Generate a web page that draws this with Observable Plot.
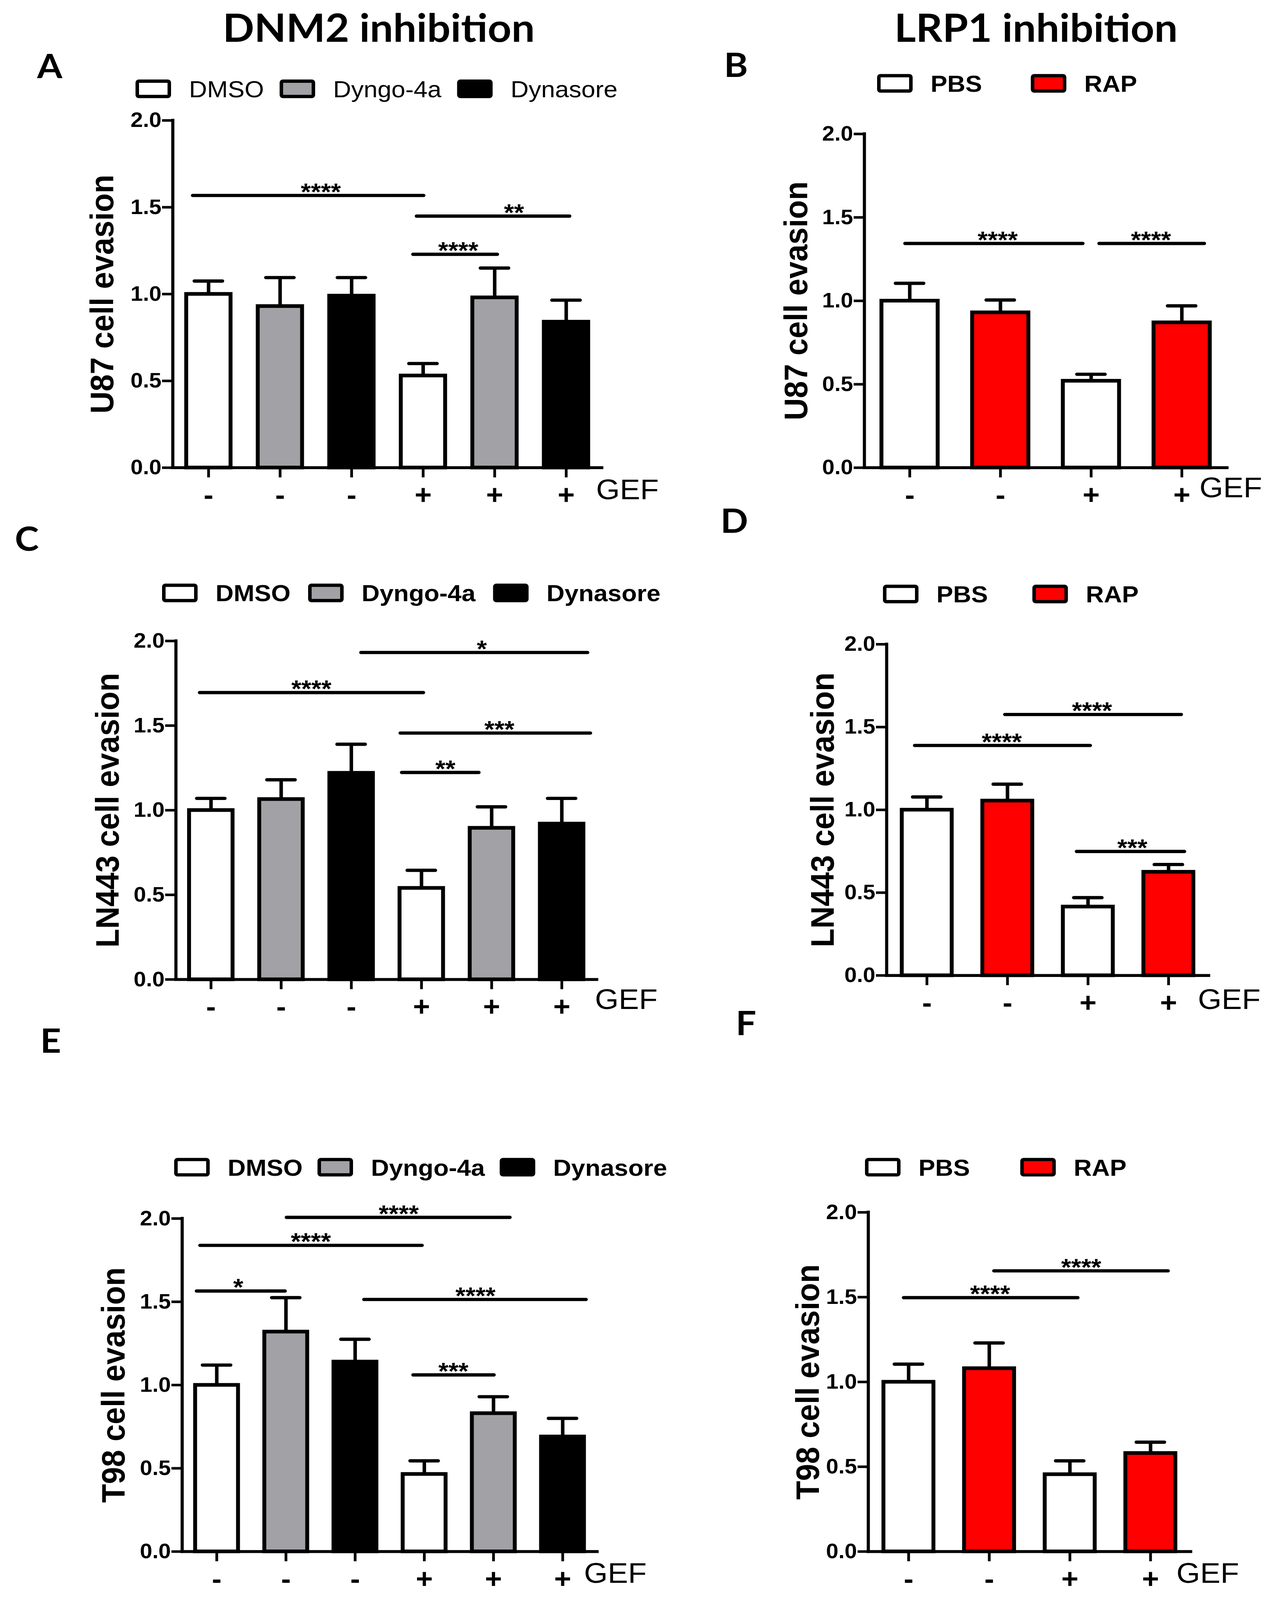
<!DOCTYPE html>
<html>
<head>
<meta charset="utf-8">
<script src="https://cdn.jsdelivr.net/npm/d3@7"></script>
<script src="https://cdn.jsdelivr.net/npm/@observablehq/plot@0.6"></script>
<style>
  html, body { margin: 0; padding: 0; background: #fff; overflow: hidden; }
  #fig { position: relative; width: 3247px; height: 4377px; background: #fff; overflow: hidden; transform-origin: 0 0; }
  #fig svg { position: absolute; }
</style>
</head>
<body>
<div id="fig"></div>
<script>
// ---- data ----
const dnm2Groups = ["DMSO", "Dyngo-4a", "Dynasore"];
const lrp1Groups = ["PBS", "RAP"];
const dnm2Gef = ["-", "-", "-", "+", "+", "+"];
const lrp1Gef = ["-", "-", "+", "+"];
const yTicks = [0, 0.5, 1.0, 1.5, 2.0];

// A: U87, DNM2 inhibitors
const u87DnmMean = [1.00, 0.93, 0.99, 0.53, 0.98, 0.84];
const u87DnmSem  = [0.075, 0.165, 0.105, 0.07, 0.17, 0.125];
const u87DnmSig = [
  { from: -0.22, to: 3.01, y: 1.568, at: 1.57, stars: "****" },
  { from: 2.91, to: 5.05, y: 1.449, at: 4.27, stars: "**" },
  { from: 2.86, to: 4.04, y: 1.229, at: 3.49, stars: "****" }
];
// B: U87, RAP
const u87LrpMean = [1.00, 0.93, 0.52, 0.87];
const u87LrpSem  = [0.105, 0.075, 0.04, 0.10];
const u87LrpSig = [
  { from: -0.05, to: 1.91, y: 1.344, at: 0.97, stars: "****" },
  { from: 2.09, to: 3.25, y: 1.344, at: 2.66, stars: "****" }
];
// C: LN443, DNM2 inhibitors
const ln443DnmMean = [1.00, 1.065, 1.22, 0.54, 0.895, 0.92];
const ln443DnmSem  = [0.07, 0.115, 0.17, 0.105, 0.125, 0.15];
const ln443DnmSig = [
  { from: 2.14, to: 5.37, y: 1.932, at: 3.86, stars: "*" },
  { from: -0.16, to: 3.03, y: 1.695, at: 1.43, stars: "****" },
  { from: 2.70, to: 5.41, y: 1.456, at: 4.11, stars: "***" },
  { from: 2.72, to: 3.82, y: 1.223, at: 3.34, stars: "**" }
];
// D: LN443, RAP
const ln443LrpMean = [1.00, 1.055, 0.415, 0.625];
const ln443LrpSem  = [0.078, 0.10, 0.055, 0.045];
const ln443LrpSig = [
  { from: 0.97, to: 3.16, y: 1.576, at: 2.05, stars: "****" },
  { from: -0.15, to: 2.03, y: 1.389, at: 0.93, stars: "****" },
  { from: 1.86, to: 3.20, y: 0.749, at: 2.55, stars: "***" }
];
// E: T98, DNM2 inhibitors
const t98DnmMean = [1.00, 1.32, 1.14, 0.465, 0.83, 0.69];
const t98DnmSem  = [0.12, 0.205, 0.135, 0.08, 0.10, 0.11];
const t98DnmSig = [
  { from: 1.01, to: 4.24, y: 2.007, at: 2.63, stars: "****" },
  { from: -0.24, to: 2.97, y: 1.839, at: 1.36, stars: "****" },
  { from: -0.29, to: 0.99, y: 1.565, at: 0.31, stars: "*" },
  { from: 2.13, to: 5.34, y: 1.514, at: 3.74, stars: "****" },
  { from: 2.84, to: 4.01, y: 1.061, at: 3.42, stars: "***" }
];
// F: T98, RAP
const t98LrpMean = [1.00, 1.08, 0.455, 0.58];
const t98LrpSem  = [0.105, 0.15, 0.08, 0.065];
const t98LrpSig = [
  { from: 1.06, to: 3.22, y: 1.655, at: 2.14, stars: "****" },
  { from: -0.06, to: 2.10, y: 1.497, at: 1.01, stars: "****" }
];

// ---- styling / layout ----
const font = "'Liberation Sans', Arial, sans-serif";
const headFont = "Lato, 'Open Sans', sans-serif";
const dnm2Fill = ["#ffffff", "#a2a1a5", "#000000"];
const lrp1Fill = ["#ffffff", "#ff0000"];
const fig = document.getElementById("fig");

const panels = [
  { mean: u87DnmMean, sem: u87DnmSem, sig: u87DnmSig, gef: dnm2Gef, fills: [0, 1, 2, 0, 1, 2].map(k => dnm2Fill[k]),
    label: "U87 cell evasion", x0: 442, x1: 1541, yTop: 329, yBot: 1279, labelOff: 153, gefDx: -15, gefDy: 61 },
  { mean: u87LrpMean, sem: u87LrpSem, sig: u87LrpSig, gef: lrp1Gef, fills: [0, 1, 0, 1].map(k => lrp1Fill[k]),
    label: "U87 cell evasion", x0: 2213, x1: 3142, yTop: 366, yBot: 1279, labelOff: 147, gefDx: -71, gefDy: 56 },
  { mean: ln443DnmMean, sem: ln443DnmSem, sig: ln443DnmSig, gef: dnm2Gef, fills: [0, 1, 2, 0, 1, 2].map(k => dnm2Fill[k]),
    label: "LN443 cell evasion", x0: 450, x1: 1528, yTop: 1753, yBot: 2679, labelOff: 147, gefDx: -5, gefDy: 56 },
  { mean: ln443LrpMean, sem: ln443LrpSem, sig: ln443LrpSig, gef: lrp1Gef, fills: [0, 1, 0, 1].map(k => lrp1Fill[k]),
    label: "LN443 cell evasion", x0: 2270, x1: 3095, yTop: 1762, yBot: 2668, labelOff: 136, gefDx: -28, gefDy: 67 },
  { mean: t98DnmMean, sem: t98DnmSem, sig: t98DnmSig, gef: dnm2Gef, fills: [0, 1, 2, 0, 1, 2].map(k => dnm2Fill[k]),
    label: "T98 cell evasion", x0: 466, x1: 1529, yTop: 3333, yBot: 4244, labelOff: 148, gefDx: -34, gefDy: 60 },
  { mean: t98LrpMean, sem: t98LrpSem, sig: t98LrpSig, gef: lrp1Gef, fills: [0, 1, 0, 1].map(k => lrp1Fill[k]),
    label: "T98 cell evasion", x0: 2223, x1: 3049, yTop: 3316, yBot: 4244, labelOff: 127, gefDx: -37, gefDy: 60 }
];

function drawPanel(cfg) {
  const n = cfg.mean.length;
  const step = (cfg.x1 - cfg.x0) / n;
  const idx = d3.range(n);
  const rows = idx.map(i => ({ i, mean: cfg.mean[i], top: cfg.mean[i] + cfg.sem[i], fill: cfg.fills[i] }));
  const ML = 340, MR = 240, MT = 60, MB = 110;
  const hw = 0.31;          // half bar width, in bar slots
  const cap = 36 / step;    // half error-cap width

  const chart = Plot.plot({
    width: ML + cfg.x1 - cfg.x0 + MR,
    height: MT + cfg.yBot - cfg.yTop + MB,
    marginLeft: ML, marginRight: MR, marginTop: MT, marginBottom: MB,
    x: { domain: [-0.5, n - 0.5] },
    y: { domain: [0, 2] },
    color: { type: "identity" },
    style: { fontFamily: font, background: "transparent", overflow: "visible", color: "#000" },
    marks: [
      Plot.ruleX(rows, { x: "i", y1: "mean", y2: "top", strokeWidth: 9 }),
      Plot.ruleY(rows, { y: "top", x1: d => d.i - cap, x2: d => d.i + cap, strokeWidth: 9, strokeLinecap: "round" }),
      Plot.rectY(rows, { x1: d => d.i - hw, x2: d => d.i + hw, y1: 0, y2: "mean", fill: "fill", stroke: "#000", strokeWidth: 10 }),
      Plot.axisY({ ticks: yTicks, tickSize: 27, tickPadding: 2, tickFormat: d3.format(".1f"), fontSize: 57, fontWeight: "bold", strokeWidth: 7, label: null }),
      Plot.axisX({ ticks: idx, tickSize: 27, tickPadding: 20, tickFormat: i => cfg.gef[i], fontSize: 75, fontWeight: "bold", strokeWidth: 7, label: null }),
      Plot.ruleY([0], { strokeWidth: 8, strokeLinecap: "square" }),
      Plot.ruleX([-0.5], { y1: 0, y2: 2, strokeWidth: 8, strokeLinecap: "square" }),
      Plot.ruleY(cfg.sig, { y: "y", x1: "from", x2: "to", strokeWidth: 9, strokeLinecap: "round" }),
      Plot.text(cfg.sig, { x: "at", y: "y", text: "stars", fontSize: 66, fontWeight: "bold", dy: -9 }),
      Plot.text([cfg.label], { frameAnchor: "left", rotate: -90, textAnchor: "middle", lineAnchor: "bottom",
        dx: -cfg.labelOff, fontSize: 84, fontWeight: "bold" }),
      Plot.text(["GEF"], { frameAnchor: "bottom-right", textAnchor: "start", lineAnchor: "middle",
        dx: cfg.gefDx, dy: cfg.gefDy, fontSize: 78 })
    ]
  });
  chart.style.left = (cfg.x0 - ML) + "px";
  chart.style.top = (cfg.yTop - MT) + "px";
  fig.appendChild(chart);
}

panels.forEach(drawPanel);

// ---- titles, panel letters and legends ----
const over = d3.select(fig).append("svg")
  .attr("width", 3247).attr("height", 4377)
  .style("left", "0px").style("top", "0px");

over.selectAll("text.title")
  .data([{ t: "DNM2 inhibition", x: 970 }, { t: "LRP1 inhibition", x: 2653 }])
  .join("text")
  .attr("x", d => d.x).attr("y", 114)
  .attr("text-anchor", "middle")
  .style("font-family", headFont).style("font-weight", "bold").style("font-size", "106px")
  .text(d => d.t);

over.selectAll("text.letter")
  .data([
    { t: "A", x: 95, y: 214 }, { t: "B", x: 1854, y: 210 },
    { t: "C", x: 38, y: 1507 }, { t: "D", x: 1845, y: 1458 },
    { t: "E", x: 103, y: 2880 }, { t: "F", x: 1884, y: 2832 }
  ])
  .join("text")
  .attr("x", d => d.x).attr("y", d => d.y)
  .style("font-family", headFont).style("font-weight", "bold").style("font-size", "93px")
  .text(d => d.t);

const legends = [
  { names: dnm2Groups, fills: dnm2Fill, x: 347, cy: 243, bold: false, gap: 40 },
  { names: lrp1Groups, fills: lrp1Fill, x: 2246, cy: 228, bold: true, gap: 125 },
  { names: dnm2Groups, fills: dnm2Fill, x: 415, cy: 1622, bold: true, gap: 45 },
  { names: lrp1Groups, fills: lrp1Fill, x: 2261, cy: 1625, bold: true, gap: 114 },
  { names: dnm2Groups, fills: dnm2Fill, x: 446, cy: 3193, bold: true, gap: 38 },
  { names: lrp1Groups, fills: lrp1Fill, x: 2215, cy: 3193, bold: true, gap: 129 }
];

legends.forEach(lg => {
  let x = lg.x;
  lg.names.forEach((name, k) => {
    over.append("rect")
      .attr("x", x + 4.5).attr("y", lg.cy - 21)
      .attr("width", 82).attr("height", 42).attr("rx", 4)
      .attr("fill", lg.fills[k]).attr("stroke", "#000").attr("stroke-width", 9);
    x += 91 + 46;
    const t = over.append("text")
      .attr("x", x).attr("y", lg.cy + 23)
      .style("font-family", font).style("font-size", "64px")
      .style("font-weight", lg.bold ? "bold" : "normal")
      .text(name);
    x += t.node().getComputedTextLength() + lg.gap;
  });
});

// the photographed viewport can be shorter than the figure: squeeze to fit
const sx = Math.min(1, window.innerWidth / 3247);
const sy = Math.min(1, window.innerHeight / 4377);
fig.style.transform = `scale(${sx}, ${sy})`;
</script>
</body>
</html>
